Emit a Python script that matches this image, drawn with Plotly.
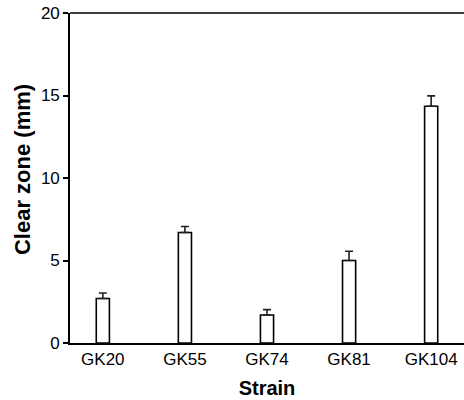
import plotly.graph_objects as go

strains = ["GK20", "GK55", "GK74", "GK81", "GK104"]
clear_zone = [2.7, 6.7, 1.7, 5.0, 14.35]
sem = [0.33, 0.36, 0.32, 0.56, 0.63]
y_ticks = [0, 5, 10, 15, 20]

FONT = "Arial, 'Liberation Sans', sans-serif"

fig = go.Figure()
fig.add_trace(go.Bar(
    x=strains,
    y=clear_zone,
    width=0.16,
    marker=dict(color="white", line=dict(color="black", width=1.6)),
    error_y=dict(type="data", array=sem, symmetric=False,
                 arrayminus=[0] * len(sem),
                 color="#222222", thickness=1.6, width=4),
    showlegend=False,
    hoverinfo="skip",
))

fig.update_layout(
    width=464, height=400,
    margin=dict(l=70, r=0, t=13, b=57),
    plot_bgcolor="white", paper_bgcolor="white",
    font=dict(family=FONT, color="black", size=17),
    xaxis=dict(
        type="category",
        range=[-0.4, 4.4],
        automargin=False,
        showline=True, linecolor="black", linewidth=1.6,
        mirror=False,
        ticks="", showgrid=False, zeroline=False,
        tickfont=dict(size=17),
        title=dict(text="<b>Strain</b>", font=dict(size=20), standoff=13),
    ),
    yaxis=dict(
        range=[0, 20],
        tickvals=y_ticks,
        automargin=False,
        ticklabeloverflow="allow",
        showline=True, linecolor="black", linewidth=1.6,
        ticks="outside", ticklen=5, tickwidth=1.6, tickcolor="black",
        showgrid=False, zeroline=False,
        tickfont=dict(size=17),
    ),
    shapes=[dict(type="line", xref="paper", yref="paper",
                 x0=0, x1=1, y0=1, y1=1,
                 line=dict(color="black", width=1.6))],
    annotations=[dict(text="<b>Clear zone (mm)</b>", xref="paper", yref="paper",
                      x=-0.122, y=0.527, xanchor="center", yanchor="middle",
                      textangle=-90, showarrow=False, font=dict(size=22))],
)

fig.write_html("out.html",
               config={"displayModeBar": False},
               post_script="document.body.style.margin='0';document.body.style.overflow='hidden';")
